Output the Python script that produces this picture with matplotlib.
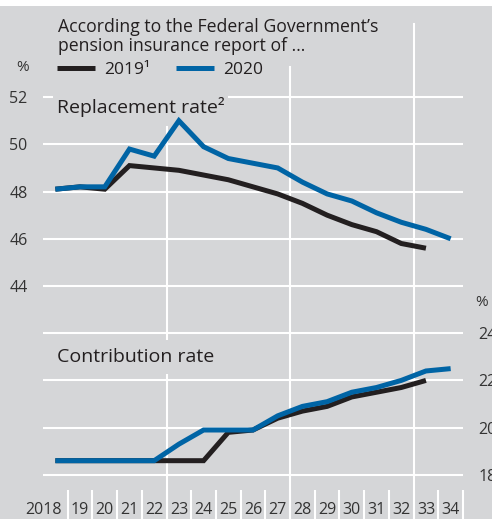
import matplotlib.pyplot as plt
from matplotlib.patches import Rectangle
from matplotlib.transforms import offset_copy

plt.rcParams['font.family'] = ['Open Sans', 'DejaVu Sans']

years = list(range(2018, 2035))
year_labels = ['2018'] + [str(y)[2:] for y in years[1:]]

# replacement rate, per cent
repl_2019 = [48.1, 48.2, 48.1, 49.1, 49.0, 48.9, 48.7, 48.5, 48.2, 47.9,
             47.5, 47.0, 46.6, 46.3, 45.8, 45.6]
repl_2020 = [48.1, 48.2, 48.2, 49.8, 49.5, 51.0, 49.9, 49.4, 49.2, 49.0,
             48.4, 47.9, 47.6, 47.1, 46.7, 46.4, 46.0]

# contribution rate, per cent
contr_2019 = [18.6, 18.6, 18.6, 18.6, 18.6, 18.6, 18.6, 19.8, 19.9, 20.4,
              20.7, 20.9, 21.3, 21.5, 21.7, 22.0]
contr_2020 = [18.6, 18.6, 18.6, 18.6, 18.6, 19.3, 19.9, 19.9, 19.9, 20.5,
              20.9, 21.1, 21.5, 21.7, 22.0, 22.4, 22.5]

left_ticks = [44, 46, 48, 50, 52]
right_ticks = [18, 20, 22, 24]

BG = '#d5d6d8'
BLUE = '#0064a5'
BLACK = '#231f20'
TXT = '#333333'

W, H = 492, 519
fig = plt.figure(figsize=(W / 100, H / 100), dpi=100, facecolor=BG)
# thin white strip along the top edge
fig.patches.append(Rectangle((0, 1 - 6 / H), 1, 6 / H, transform=fig.transFigure,
                             facecolor='white', edgecolor='none', zorder=-10))

ax = fig.add_axes([43 / W, 0, 420 / W, 1 - 6 / H])
ax.set_facecolor('none')
ax.set_xlim(-0.5, 16.5)
ax.set_ylim(34.13, 55.86)
for s in ax.spines.values():
    s.set_visible(False)

ax2 = ax.twinx()
ax2.set_ylim(34.13 - 18, 55.86 - 18)
for s in ax2.spines.values():
    s.set_visible(False)

# horizontal grid
for v in left_ticks:
    ax.axhline(v, color='white', lw=1.5, zorder=1)
for v in right_ticks:
    ax2.axhline(v, color='white', lw=1.5, zorder=1)

# vertical grid every five years
for xg, top in [(4.5, 0.765), (9.5, 0.881), (14.5, 0.965)]:
    ax.axvline(xg, ymin=0, ymax=top, color='white', lw=1.5, zorder=1)

x = list(range(len(years)))
ax.plot(x[:len(repl_2019)], repl_2019, color=BLACK, lw=3.6,
        solid_joinstyle='miter', solid_capstyle='butt', zorder=4)
ax.plot(x, repl_2020, color=BLUE, lw=3.6,
        solid_joinstyle='miter', solid_capstyle='butt', zorder=5)
ax2.plot(x[:len(contr_2019)], contr_2019, color=BLACK, lw=3.6,
         solid_joinstyle='miter', solid_capstyle='butt', zorder=4)
ax2.plot(x, contr_2020, color=BLUE, lw=3.6,
         solid_joinstyle='miter', solid_capstyle='butt', zorder=5)

# ticks
ax.set_yticks(left_ticks)
ax.tick_params(axis='y', length=0, pad=11, labelsize=11.5, labelcolor=TXT)
ax2.set_yticks(right_ticks)
ax2.tick_params(axis='y', length=0, pad=11, labelsize=11.5, labelcolor=TXT)

ax.set_xticks(x)
ax.set_xticklabels(year_labels)
ax.set_xticks([i + 0.5 for i in x], minor=True)
ax.tick_params(axis='x', which='major', length=0, pad=-12, labelsize=11.5,
               labelcolor=TXT)
ax.tick_params(axis='x', which='minor', direction='in', length=21, width=1.5,
               color='white')
# the four-digit first year sits left of its slot
first = ax.get_xticklabels()[0]
first.set_transform(offset_copy(first.get_transform(), fig=fig, x=-12, y=0,
                                units='dots'))

# panel labels
ax.text(0.05, 51.6, 'Replacement rate²', fontsize=14, color=BLACK,
        va='center', ha='left', zorder=3,
        bbox=dict(boxstyle='square,pad=0.2', fc=BG, ec='none'))
ax2.text(0.05, 23.0, 'Contribution rate', fontsize=14, color=BLACK,
         va='center', ha='left', zorder=3,
         bbox=dict(boxstyle='square,pad=0.4', fc=BG, ec='none'))

fig.text(58 / W, 1 - 18 / H,
         'According to the Federal Government’s\npension insurance report of …',
         fontsize=12.7, color=BLACK, va='top', ha='left', linespacing=1.1)
fig.text(23 / W, 1 - 67 / H, '%', fontsize=11, color=TXT, va='center', ha='center')
fig.text(482 / W, 1 - 302 / H, '%', fontsize=11, color=TXT, va='center', ha='center')

h1, = ax.plot([], [], color=BLACK, lw=3.6, solid_capstyle='butt')
h2, = ax.plot([], [], color=BLUE, lw=3.6, solid_capstyle='butt')
fig.legend([h1, h2], ['2019¹', '2020'], loc='center left',
           bbox_to_anchor=(57 / W, 1 - 70 / H), ncol=2, frameon=False,
           fontsize=12.5, handlelength=2.2, handletextpad=0.5,
           columnspacing=1.5, borderpad=0, borderaxespad=0,
           labelcolor=BLACK)

fig.savefig('out.png', dpi=100, facecolor=BG)
